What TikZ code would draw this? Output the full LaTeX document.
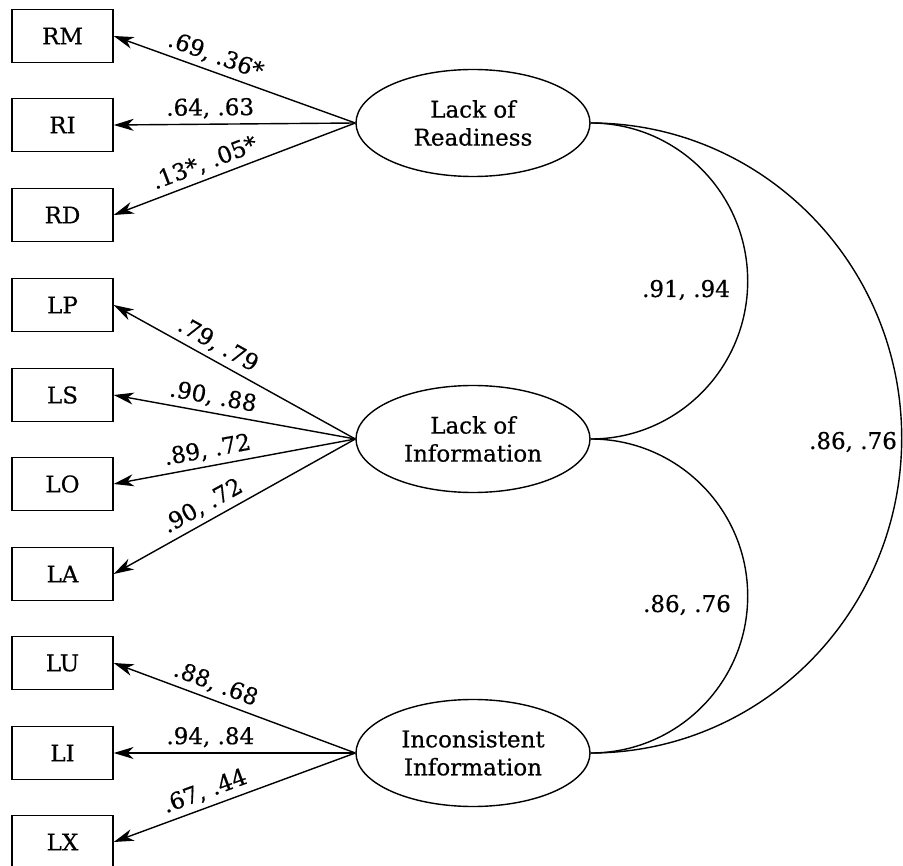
\documentclass[tikz,border=0pt]{standalone}
\usepackage{fontspec}
\setmainfont{DejaVu Serif}[FakeBold=0.5]
\usetikzlibrary{arrows.meta,shapes.geometric}
\begin{document}
\begin{tikzpicture}[x=1pt,y=-1pt,
  font=\fontsize{23}{28}\selectfont,
  obs/.style={draw, line width=1.4pt, minimum width=101pt, minimum height=53pt, inner sep=0pt},
  lat/.style={draw, ellipse, line width=1.4pt, minimum width=234pt, minimum height=107pt, inner sep=0pt, align=center},
  load/.style={line width=1.4pt, -{Stealth[length=20pt,width=12pt,inset=6pt]}},
  lbl/.style={sloped, above, pos=0.6, inner sep=5pt},
  cov/.style={line width=1.4pt}
]
\useasboundingbox (0,0) rectangle (903,866);
% observed variables
\node[obs] (RM) at (62.5,36) {RM};
\node[obs] (RI) at (62.5,125) {RI};
\node[obs] (RD) at (62.5,215) {RD};
\node[obs] (LP) at (62.5,305) {LP};
\node[obs] (LS) at (62.5,395) {LS};
\node[obs] (LO) at (62.5,484) {LO};
\node[obs] (LA) at (62.5,574) {LA};
\node[obs] (LU) at (62.5,663) {LU};
\node[obs] (LI) at (62.5,753) {LI};
\node[obs] (LX) at (62.5,842) {LX};
% latent variables
\node[lat] (LR) at (473,123) {Lack of\\Readiness};
\node[lat] (LN) at (473,439) {Lack of\\Information};
\node[lat] (II) at (473,753) {Inconsistent\\Information};
% loadings
\draw[load] (LR.west) -- node[lbl]{.69, .36*} (RM.east);
\draw[load] (LR.west) -- node[lbl]{.64, .63} (RI.east);
\draw[load] (LR.west) -- node[lbl]{.13*, .05*} (RD.east);
\draw[load] (LN.west) -- node[lbl]{.79, .79} (LP.east);
\draw[load] (LN.west) -- node[lbl]{.90, .88} (LS.east);
\draw[load] (LN.west) -- node[lbl]{.89, .72} (LO.east);
\draw[load] (LN.west) -- node[lbl]{.90, .72} (LA.east);
\draw[load] (II.west) -- node[lbl]{.88, .68} (LU.east);
\draw[load] (II.west) -- node[lbl]{.94, .84} (LI.east);
\draw[load] (II.west) -- node[lbl]{.67, .44} (LX.east);
% correlations
\draw[cov] (LR.east) arc[start angle=90, end angle=-90, x radius=157pt, y radius=158pt];
\draw[cov] (LN.east) arc[start angle=90, end angle=-90, x radius=157pt, y radius=157pt];
\draw[cov] (LR.east) arc[start angle=90, end angle=-90, x radius=311pt, y radius=315pt];
\node (c1) at (686,290) {.91, .94};
\node (c2) at (687,605) {.86, .76};
\node (c3) at (853,442) {.86, .76};
\end{tikzpicture}
\end{document}
